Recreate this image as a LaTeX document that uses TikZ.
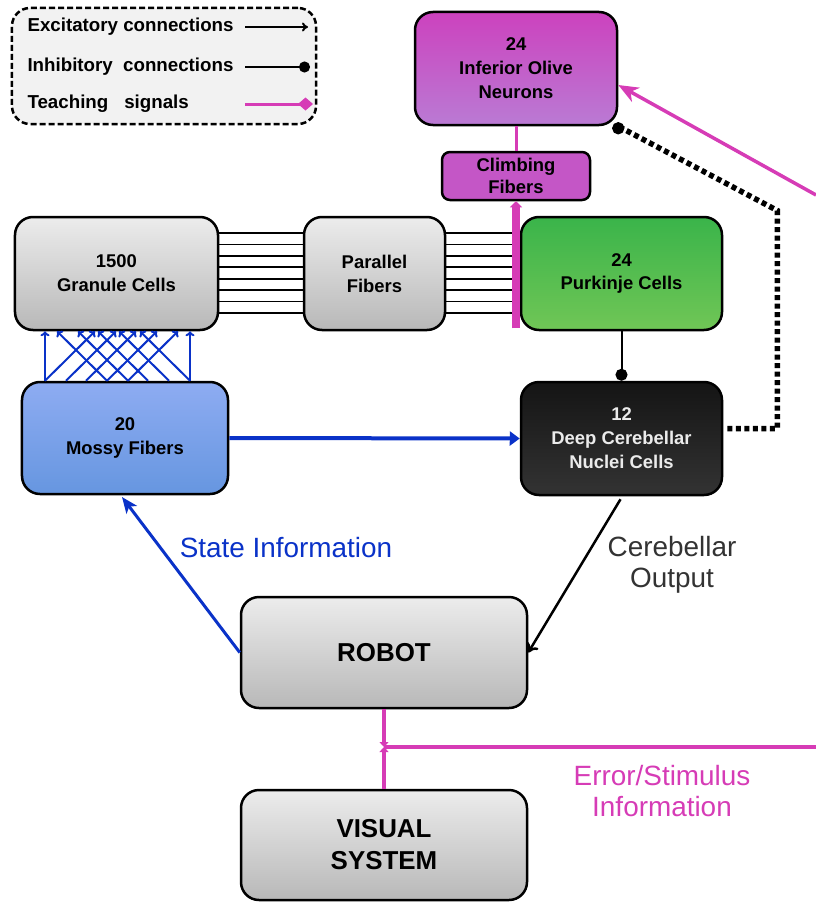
\documentclass[tikz,border=0pt]{standalone}
\usepackage{fontspec}
\setmainfont{Liberation Sans}
\usetikzlibrary{arrows.meta}

\definecolor{teachcol}{RGB}{214,60,182}
\definecolor{mossycol}{RGB}{10,50,200}
\definecolor{graytop}{RGB}{236,236,236}
\definecolor{graybot}{RGB}{184,184,184}
\definecolor{olivetop}{RGB}{204,66,190}
\definecolor{olivebot}{RGB}{186,122,212}
\definecolor{climbcol}{RGB}{196,86,198}
\definecolor{purktop}{RGB}{58,180,74}
\definecolor{purkbot}{RGB}{112,198,86}
\definecolor{mossytop}{RGB}{142,172,242}
\definecolor{mossybot}{RGB}{102,150,224}

\tikzset{
  cellbox/.style={draw=black, line width=2.5bp, rounded corners=18bp, align=center,
    font=\bfseries\fontsize{18.5}{24}\selectfont, top color=graytop, bottom color=graybot},
  bigbox/.style={cellbox, font=\bfseries\fontsize{26}{32}\selectfont,
    minimum width=286bp, minimum height=111bp},
  excite/.style={line width=2bp, -{To[length=6bp,width=9bp]}},
  inhibit/.style={line width=2bp, -{Circle[length=11bp]}},
  teach/.style={teachcol, line width=3bp},
  infolabel/.style={align=center, font=\fontsize{28}{31}\selectfont}
}

\begin{document}
\begin{tikzpicture}[x=1bp, y=-1bp]
    \useasboundingbox (0,0) rectangle (816,902);

    % Legenda
    \node[draw, dashed, dash pattern=on 6bp off 3bp, line width=2.5bp, rounded corners=18bp,
      fill=gray!10, minimum width=304bp, minimum height=116bp] (legend) at (164,66) {};
    \node[anchor=west, font=\bfseries\fontsize{18.8}{22}\selectfont] (exctext) at (24,27) {Excitatory connections};
    \node[anchor=west, font=\bfseries\fontsize{18.8}{22}\selectfont] (inhtext) at (24,67) {Inhibitory\hspace{0.55em}connections};
    \node[anchor=west, font=\bfseries\fontsize{18.8}{22}\selectfont] (teachtext) at (24,104) {Teaching\hspace{0.85em}signals};
    \coordinate (excA) at (245,27);  \coordinate (excB) at (308,27);
    \coordinate (inhA) at (245,67);  \coordinate (inhB) at (310,67);
    \coordinate (teachA) at (245,104); \coordinate (teachB) at (313,104);
    \draw[excite] (excA) -- (excB);
    \draw[inhibit] (inhA) -- (inhB);
    \draw[teach, -{Diamond[length=15bp,width=13bp]}] (teachA) -- (teachB);

    % Cervelletto
    \node[cellbox, top color=olivetop, bottom color=olivebot,
      minimum width=202bp, minimum height=113bp] (olive) at (516,68.5) {24\\Inferior Olive\\Neurons};
    \node[cellbox, fill=climbcol, top color=climbcol, bottom color=climbcol, rounded corners=8bp,
      font=\bfseries\fontsize{18.5}{22}\selectfont,
      minimum width=148bp, minimum height=48bp] (climb) at (516,176) {Climbing\\Fibers};
    \node[cellbox, minimum width=203bp, minimum height=113bp] (granule) at (116.5,273.5) {1500\\Granule Cells};
    \node[cellbox, minimum width=141bp, minimum height=113bp] (parallel) at (374.5,273.5) {Parallel\\Fibers};
    \node[cellbox, top color=purktop, bottom color=purkbot,
      minimum width=201bp, minimum height=113bp] (purkinje) at (621.5,273.5) {24\\Purkinje Cells};
    \node[cellbox, top color=mossytop, bottom color=mossybot,
      minimum width=206bp, minimum height=112bp] (mossy) at (125,438) {20\\Mossy Fibers};
    \node[cellbox, top color=black!92, bottom color=black!80, text=black!8,
      minimum width=201bp, minimum height=113bp] (dcn) at (621.5,438.5) {12\\Deep Cerebellar\\Nuclei Cells};

    % Robot e sistema visivo
    \node[bigbox] (robot) at (384,652.5) {ROBOT};
    \node[bigbox, minimum height=110bp] (visual) at (384,845) {VISUAL\\SYSTEM};

    % Fibre parallele
    \foreach \i in {0,...,7} {
        \draw[line width=1.8bp] (granule.east |- 0,{233+11.4*\i}) -- (parallel.west |- 0,{233+11.4*\i});
        \draw[line width=1.8bp] (parallel.east |- 0,{233+11.4*\i}) -- (climb.south |- 0,{233+11.4*\i});
    }

    % Fibre muschiose verso i granuli
    \foreach \a/\b in {45/45, 45/95, 66/116, 86/136, 107/157, 128/178,
                       190/190, 190/140, 169/119, 148/98, 128/78, 107/57} {
        \draw[mossycol, line width=2bp, -{To[length=5bp,width=9bp]}] (\a,0 |- mossy.north) -- (\b,0 |- granule.south);
    }

    % Segnali di insegnamento
    \draw[teach] (olive.south |- olive.south) -- (climb.north);
    \draw[teachcol, line width=8bp, -{Triangle[length=6bp,width=12bp]}] (climb.south |- purkinje.south) ++(0,-3) -- (climb.south);
    \coordinate (olivein) at (816,195);
    \draw[teach, line width=3.5bp, -{Stealth[length=20bp,width=16bp,inset=6bp]}] (olivein) -- (olive.east |- 0,85);
    \coordinate (junc) at (robot.south |- 0,747);
    \coordinate (errin) at (816,747);
    \draw[teach, line width=4bp, -{Triangle[length=5bp,width=9bp]}] (robot.south) -- (junc);
    \draw[teach, line width=4bp, -{Triangle[length=5bp,width=9bp]}] (visual.north) -- (junc);
    \draw[teach, line width=4bp] (junc) -- (errin);

    % Connessioni
    \draw[line width=2bp, -{Circle[length=12bp]}] (purkinje.south) -- (dcn.north);
    \draw[mossycol, line width=4bp, -{Triangle[length=10bp,width=14bp]}] (mossy.east) -- (dcn.west);
    \draw[mossycol, line width=3bp, -{Stealth[length=16bp,width=13bp,inset=4bp]}] (robot.west) -- (122,497);
    \draw[line width=2.5bp, -{To[length=9bp,width=14bp]}] (dcn.south) ++(-1,3) -- (robot.east);
    \draw[line width=5.5bp, dash pattern=on 5bp off 3.5bp, -{Circle[length=12bp]}]
        (dcn.east) ++(4,-10) -- ++(50,0) -- ++(0,-218) -- (olive.south east) ++(0,-4);

    % Etichette
    \node[infolabel, text=mossycol] (stateinfo) at (286,548) {State Information};
    \node[infolabel, text=black!80] (cereout) at (672,565) {Cerebellar\\Output};
    \node[infolabel, text=teachcol] (errinfo) at (662,791) {Error/Stimulus\\Information};

\end{tikzpicture}
\end{document}
